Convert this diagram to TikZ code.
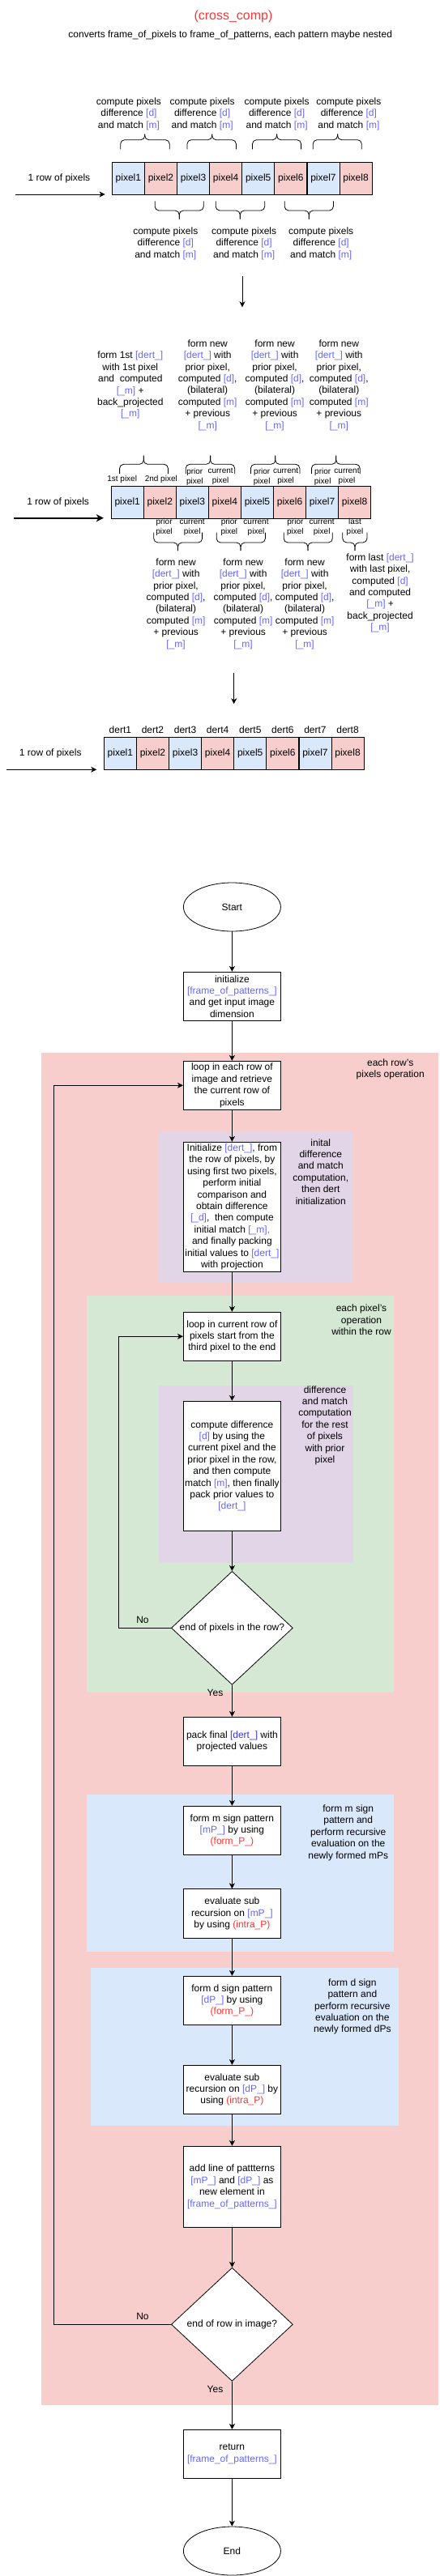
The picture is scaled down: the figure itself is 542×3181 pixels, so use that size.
\documentclass[tikz,border=0pt]{standalone}
\usepackage{fontspec}
\setmainfont{Liberation Sans}
\usetikzlibrary{shapes.geometric,arrows.meta}
\definecolor{tblue}{HTML}{6666FF}
\definecolor{tbluedark}{HTML}{3333FF}
\definecolor{tred}{HTML}{FF3333}
\definecolor{cblue}{HTML}{DAE8FC}
\definecolor{cpink}{HTML}{F8CECC}
\definecolor{cgreen}{HTML}{D5E8D4}
\definecolor{cpurple}{HTML}{E1D5E7}
\newcommand{\BL}[1]{\textcolor{tblue}{#1}}
\newcommand{\RD}[1]{\textcolor{tred}{#1}}
\newcommand{\FS}{\fontsize{12}{14.4}\selectfont}
\newcommand{\FSs}{\fontsize{10}{12}\selectfont}
% brace: x1, x2, xtip, yends, yflat, ytip
\newcommand{\Brace}[6]{%
  \draw[brc] (#1,#4) -- (#1,#5) -- (#3,#5) -- (#3,#6);
  \draw[brc] (#2,#4) -- (#2,#5) -- (#3,#5) -- (#3,#6);}
\begin{document}
\begin{tikzpicture}[x=1pt,y=-1pt,
  lbl/.style={align=center,inner sep=0pt,font=\FS},
  slbl/.style={align=center,inner sep=0pt,font=\FSs},
  pix/.style={draw=black,line width=0.8pt,minimum width=40pt,minimum height=40pt,inner sep=0pt,font=\FS},
  box/.style={draw=black,line width=0.8pt,fill=white,minimum width=120pt,minimum height=60pt,inner sep=0pt,align=center,font=\FS},
  term/.style={draw=black,line width=0.8pt,fill=white,ellipse,minimum width=120pt,minimum height=60pt,inner sep=0pt,font=\FS},
  dec/.style={draw=black,line width=0.8pt,fill=white,diamond,minimum width=150pt,minimum height=140pt,inner sep=0pt},
  arr/.style={draw=black,line width=0.9pt,-{Stealth[length=7pt,width=7pt,inset=2pt]}},
  thickarr/.style={draw=black,line width=1.8pt,-{Stealth[length=9pt,width=9pt,inset=2.5pt]}},
  brc/.style={draw=black,line width=0.8pt,rounded corners=5pt}]
\useasboundingbox (0,0) rectangle (542,3181);

% ---------------- title ----------------
\node[inner sep=0pt,font=\fontsize{16}{19}\selectfont,text=tred] (title) at (288,20.7) {(cross\_comp)};
\node[lbl] (subtitle) at (284.2,43.7) {converts frame\_of\_pixels to frame\_of\_patterns, each pattern maybe nested};

% ---------------- row 1 ----------------
\foreach \x [count=\k] in {159,249.6,341.6,430.4}
  \node[lbl] (tla\k) at (\x,140.5) {compute pixels\\difference \BL{[d]}\\and match \BL{[m]}};
\Brace{148.7}{209.2}{178.7}{184.3}{172.7}{165.7}
\Brace{231}{291.4}{261.7}{184.3}{172.7}{165.7}
\Brace{311.5}{371.6}{341.6}{184.3}{172.7}{165.7}
\Brace{386.2}{446.3}{416.6}{184.3}{172.7}{165.7}
\foreach \i/\c in {1/cblue,2/cpink,3/cblue,4/cpink,5/cblue,6/cpink,7/cblue,8/cpink}
  \node[pix,fill=\c] (ra\i) at ({138.3+40.1*(\i-0.5)},220.3) {pixel\i};
\node[lbl] (rowa) at (72.9,220.7) {1 row of pixels};
\coordinate (a1s) at (19,240);
\coordinate (a1e) at (129.6,240);
\draw[arr] (a1s) -- (a1e);
\Brace{191.2}{251.3}{221.2}{248.3}{260}{270.7}
\Brace{266.2}{326.7}{296.3}{248.3}{260}{270.7}
\Brace{351.2}{411.4}{381.3}{248.3}{260}{270.7}
\foreach \x [count=\k] in {204.3,301.1,396.2}
  \node[lbl] (tlb\k) at (\x,300.5) {compute pixels\\difference \BL{[d]}\\and match \BL{[m]}};
\coordinate (a2s) at (299,341);
\coordinate (a2e) at (299,379.3);
\draw[arr] (a2s) -- (a2e);

% ---------------- row 2 ----------------
\node[lbl] (f1st) at (160.8,475.7) {form 1st \BL{[dert\_]}\\with 1st pixel\\and\ \ computed\\\BL{[\_m]} +\\back\_projected\\\BL{[\_m]}};
\foreach \x [count=\k] in {256.2,339.1,418.3}
  \node[lbl] (fna\k) at (\x,475.5) {form new\\\BL{[dert\_]} with\\prior pixel,\\computed \BL{[d]},\\(bilateral)\\computed \BL{[m]}\\+ previous\\\BL{[\_m]}};
\Brace{147.6}{207.4}{177.3}{585}{573.3}{562.7}
\Brace{229.2}{289.7}{259.6}{585}{573.3}{562.7}
\Brace{309.4}{369.9}{339.8}{585}{573.3}{562.7}
\Brace{384.4}{444.2}{414.8}{585}{573.3}{562.7}
\node[slbl] (s1) at (150.7,591.7) {1st pixel};
\node[slbl] (s2) at (198.8,591.7) {2nd pixel};
\node[slbl] (s3) at (240.3,588.7) {prior\\pixel};
\node[slbl] (s4) at (272.1,588.7) {current\\pixel};
\node[slbl] (s5) at (323.2,588.7) {prior\\pixel};
\node[slbl] (s6) at (352.6,588.7) {current\\pixel};
\node[slbl] (s7) at (398.2,588.7) {prior\\pixel};
\node[slbl] (s8) at (428,588.7) {current\\pixel};
\foreach \i/\c in {1/cblue,2/cpink,3/cblue,4/cpink,5/cblue,6/cpink,7/cblue,8/cpink}
  \node[pix,fill=\c] (rb\i) at ({137.2+40.06*(\i-0.5)},620.3) {pixel\i};
\node[lbl] (rowb) at (71.6,620.7) {1 row of pixels};
\coordinate (b1s) at (17.3,639.7);
\coordinate (b1e) at (127.9,639.7);
\draw[thickarr] (b1s) -- (b1e);
\node[slbl] (u1) at (202.6,650.8) {prior\\pixel};
\node[slbl] (u2) at (237.2,650.8) {current\\pixel};
\node[slbl] (u3) at (282.8,650.8) {prior\\pixel};
\node[slbl] (u4) at (316,650.8) {current\\pixel};
\node[slbl] (u5) at (364.4,650.8) {prior\\pixel};
\node[slbl] (u6) at (397.2,650.8) {current\\pixel};
\node[slbl] (u7) at (438,650.8) {last\\pixel};
\Brace{189.8}{249.6}{219.5}{657.7}{670}{680}
\Brace{267.2}{327.4}{297}{657.7}{670}{680}
\Brace{350.2}{410.3}{379.9}{657.7}{670}{680}
\Brace{422.8}{452.9}{438}{657.7}{670}{680}
\foreach \x [count=\k] in {217.1,300.1,376.1}
  \node[lbl] (fnb\k) at (\x,745.5) {form new\\\BL{[dert\_]} with\\prior pixel,\\computed \BL{[d]},\\(bilateral)\\computed \BL{[m]}\\+ previous\\\BL{[\_m]}};
\node[lbl] (flast) at (469.1,732.3) {form last \BL{[dert\_]}\\with last pixel,\\computed \BL{[d]}\\and computed\\\BL{[\_m]} +\\back\_projected\\\BL{[\_m]}};
\coordinate (a3s) at (288.7,830.7);
\coordinate (a3e) at (288.7,869.3);
\draw[arr] (a3s) -- (a3e);

% ---------------- row 3 ----------------
\foreach \i/\c in {1/cblue,2/cpink,3/cblue,4/cpink,5/cblue,6/cpink,7/cblue,8/cpink}{
  \node[lbl] (dl\i) at ({128.3+40.1*(\i-0.5)},901) {dert\i};
  \node[pix,fill=\c] (rc\i) at ({128.3+40.1*(\i-0.5)},930.3) {pixel\i};
}
\node[lbl] (rowc) at (62.2,930.7) {1 row of pixels};
\coordinate (c1s) at (7.6,950.3);
\coordinate (c1e) at (119.3,950.3);
\draw[arr] (c1s) -- (c1e);

% ---------------- flowchart regions ----------------
\fill[cpink] (51.2,1300) rectangle (540.7,2970.3);
\fill[cpurple] (196.4,1397.3) rectangle (436.3,1583.7);
\fill[cgreen] (106.8,1600.3) rectangle (486.1,2090.3);
\fill[cpurple] (196.4,1710.7) rectangle (436.3,1930);
\fill[cblue] (106.8,2215.7) rectangle (486.1,2410);
\fill[cblue] (111.7,2430.3) rectangle (491.6,2625.3);

\node[lbl] (g1) at (481.7,1320.3) {each row's\\pixels operation};
\node[lbl] (g2) at (395.8,1446.7) {inital\\difference\\and match\\computation,\\then dert\\initialization};
\node[lbl] (g3) at (446,1630) {each pixel's\\operation\\within the row};
\node[lbl] (g4) at (401,1760.2) {difference\\and match\\computation\\for the rest\\of pixels\\with prior\\pixel};
\node[lbl] (g5) at (429.7,2263.2) {form m sign\\pattern and\\perform recursive\\evaluation on the\\newly formed mPs};
\node[lbl] (g6) at (434.9,2478) {form d sign\\pattern and\\perform recursive\\evaluation on the\\newly formed dPs};

% ---------------- flowchart nodes ----------------
\node[term] (start) at (286.4,1120) {Start};
\node[box] (init) at (286.4,1230.3) {initialize\\\BL{[frame\_of\_patterns\_]}\\and get input image\\dimension};
\node[box] (loop) at (286.4,1340.3) {loop in each row of\\image and retrieve\\the current row of\\pixels};
\node[box,minimum height=160pt] (initd) at (286.4,1490.3) {Initialize \BL{[dert\_]}, from\\the row of pixels, by\\using first two pixels,\\perform initial\\comparison and\\obtain difference\\\BL{[\_d]},\ \ then compute\\initial match \BL{[\_m],}\\and finally packing\\initial values to \BL{[dert\_]}\\with projection};
\node[box] (loopb) at (286.4,1650.3) {loop in current row of\\pixels start from the\\third pixel to the end};
\node[box,minimum height=160pt] (comp) at (286.4,1810.3) {compute difference\\\BL{[d]} by using the\\current pixel and the\\prior pixel in the row,\\and then compute\\match \BL{[m]}, then finally\\pack prior values to\\\BL{[dert\_]}};
\node[dec,label={[font=\FS,inner sep=0pt]center:end of pixels in the row?}] (da) at (286.4,2010.3) {};
\node[box] (pack) at (286.4,2150.3) {pack final \textcolor{tbluedark}{[dert\_]} with\\projected values};
\node[box] (formm) at (286.4,2260.3) {form m sign pattern\\\BL{[mP\_]} by using\\\RD{(form\_P\_)}};
\node[box,minimum height=60.6pt] (evalm) at (286.4,2363) {evaluate sub\\recursion on \BL{[mP\_]}\\by using \RD{(intra\_P)}};
\node[box] (formd) at (286.4,2470.3) {form d sign pattern\\\BL{[dP\_]} by using\\\RD{(form\_P\_)}};
\node[box] (evald) at (286.4,2580.3) {evaluate sub\\recursion on \BL{[dP\_]} by\\using \RD{(intra\_P)}};
\node[box,minimum height=100pt] (addl) at (286.4,2700.3) {add line of pattterns\\\BL{[mP\_]} and \BL{[dP\_]} as\\new element in\\\BL{[frame\_of\_patterns\_]}};
\node[dec,label={[font=\FS,inner sep=0pt]center:end of row in image?}] (db) at (286.4,2870.3) {};
\node[box] (ret) at (286.4,3030.3) {return\\\BL{[frame\_of\_patterns\_]}};
\node[term] (end) at (286.4,3150) {End};

% ---------------- flowchart connectors ----------------
\draw[arr] (start) -- (init);
\draw[arr] (init) -- (loop);
\draw[arr] (loop) -- (initd);
\draw[arr] (initd) -- (loopb);
\draw[arr] (loopb) -- (comp);
\draw[arr] (comp) -- (da.north);
\draw[arr] (da.south) -- (pack);
\draw[arr] (pack) -- (formm);
\draw[arr] (formm) -- (evalm);
\draw[arr] (evalm) -- (formd);
\draw[arr] (formd) -- (evald);
\draw[arr] (evald) -- (addl);
\draw[arr] (addl) -- (db.north);
\draw[arr] (db.south) -- (ret);
\draw[arr] (ret) -- (end);
\coordinate (lpa) at (146.6,2010.3);
\coordinate (lpb) at (66.4,2870.3);
\draw[arr] (da.west) -- (lpa) |- (loopb.west);
\draw[arr] (db.west) -- (lpb) |- (loop.west);
\node[lbl] (noa) at (176,2000.7) {No};
\node[lbl] (yesa) at (265.5,2090.7) {Yes};
\node[lbl] (nob) at (176,2860.7) {No};
\node[lbl] (yesb) at (265.5,2950.7) {Yes};
\end{tikzpicture}
\end{document}
